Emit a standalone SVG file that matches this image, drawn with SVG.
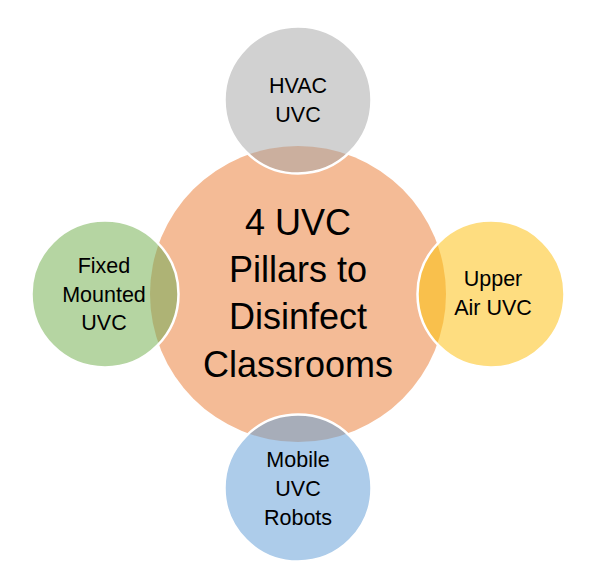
<svg xmlns="http://www.w3.org/2000/svg" width="600" height="580" viewBox="0 0 600 580">
  <style>
    text { font-family: "Liberation Sans", Arial, sans-serif; fill: #000; text-anchor: middle; }
    .small { font-size: 21.5px; }
    .big { font-size: 36px; }
    .ring { fill: none; stroke: #fff; stroke-width: 2.5; }
  </style>
  <defs>
    <clipPath id="clipTop"><circle cx="298" cy="100" r="73.5"/></clipPath>
    <clipPath id="clipRight"><circle cx="491" cy="294" r="73.5"/></clipPath>
    <clipPath id="clipBottom"><circle cx="298" cy="488" r="73.5"/></clipPath>
    <clipPath id="clipLeft"><circle cx="105" cy="294" r="73.5"/></clipPath>
  </defs>
  <rect width="600" height="580" fill="#fff"/>

  <g id="center">
    <circle cx="298" cy="294" r="148" fill="#F4BB96"/>
    <text class="big" x="298" y="235">4 UVC</text>
    <text class="big" x="298" y="282">Pillars to</text>
    <text class="big" x="298" y="329">Disinfect</text>
    <text class="big" x="298" y="377">Classrooms</text>
  </g>

  <g id="connectors"></g>

  <g id="hvac">
    <circle cx="298" cy="100" r="73.5" fill="#D1D1D1"/>
    <circle cx="298" cy="294" r="148" fill="#CBAF9E" clip-path="url(#clipTop)"/>
    <circle class="ring" cx="298" cy="100" r="73.5"/>
    <text class="small" x="298" y="93">HVAC</text>
    <text class="small" x="298" y="122">UVC</text>
  </g>

  <g id="upper-air">
    <circle cx="491" cy="294" r="73.5" fill="#FEDD80"/>
    <circle cx="298" cy="294" r="148" fill="#F9C04C" clip-path="url(#clipRight)"/>
    <circle class="ring" cx="491" cy="294" r="73.5"/>
    <text class="small" x="493" y="286">Upper</text>
    <text class="small" x="493" y="315">Air UVC</text>
  </g>

  <g id="mobile">
    <circle cx="298" cy="488" r="73.5" fill="#ADCCEA"/>
    <circle cx="298" cy="294" r="148" fill="#A7ADB9" clip-path="url(#clipBottom)"/>
    <circle class="ring" cx="298" cy="488" r="73.5"/>
    <text class="small" x="298" y="467">Mobile</text>
    <text class="small" x="298" y="496">UVC</text>
    <text class="small" x="298" y="525">Robots</text>
  </g>

  <g id="fixed">
    <circle cx="105" cy="294" r="73.5" fill="#B5D5A2"/>
    <circle cx="298" cy="294" r="148" fill="#AEB375" clip-path="url(#clipLeft)"/>
    <circle class="ring" cx="105" cy="294" r="73.5"/>
    <text class="small" x="104" y="273">Fixed</text>
    <text class="small" x="104" y="302">Mounted</text>
    <text class="small" x="104" y="330">UVC</text>
  </g>
</svg>
